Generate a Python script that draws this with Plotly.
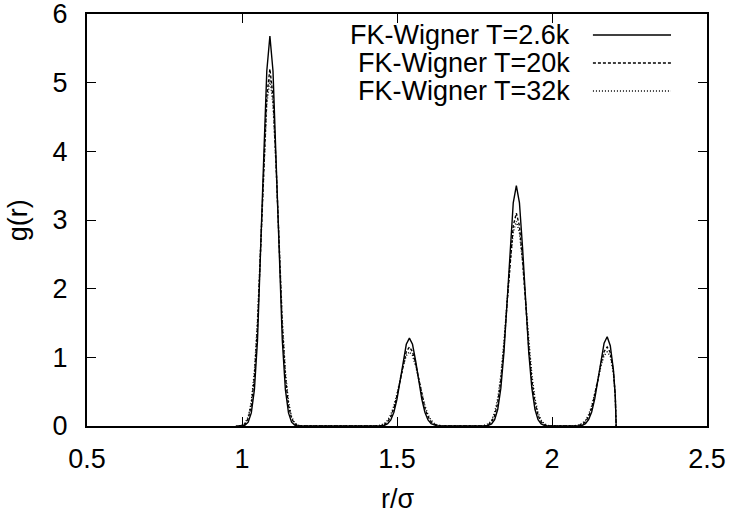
import plotly.graph_objects as go

# ---- data ----
r_26 = [0.98, 1.00, 1.01, 1.02, 1.03, 1.04, 1.05, 1.06, 1.07, 1.08, 1.09, 1.10, 1.11, 1.12, 1.13, 1.14, 1.15, 1.16, 1.17, 1.18,
        1.45, 1.46, 1.47, 1.48, 1.49, 1.50, 1.51, 1.52, 1.53, 1.54, 1.55, 1.56, 1.57, 1.58, 1.59, 1.60, 1.61, 1.62, 1.63,
        1.785, 1.795, 1.805, 1.815, 1.825, 1.835, 1.845, 1.855, 1.865, 1.875, 1.885, 1.895, 1.905, 1.915, 1.925, 1.935, 1.945, 1.955, 1.965, 1.975, 1.985,
        2.088, 2.098, 2.108, 2.118, 2.128, 2.138, 2.148, 2.158, 2.168, 2.178, 2.188, 2.198, 2.204, 2.207]
g_26 = [0, 0, 0.013, 0.055, 0.19, 0.53, 1.25, 2.43, 3.89, 5.17, 5.68, 5.17, 3.89, 2.43, 1.25, 0.53, 0.19, 0.055, 0.013, 0,
        0, 0.011, 0.034, 0.089, 0.201, 0.392, 0.658, 0.952, 1.19, 1.28, 1.19, 0.952, 0.658, 0.392, 0.201, 0.089, 0.034, 0.011, 0,
        0, 0.009, 0.031, 0.093, 0.244, 0.551, 1.07, 1.80, 2.60, 3.25, 3.5, 3.25, 2.60, 1.80, 1.07, 0.551, 0.244, 0.093, 0.031, 0.009, 0,
        0, 0.011, 0.035, 0.091, 0.205, 0.398, 0.668, 0.967, 1.207, 1.30, 1.17, 0.82, 0.45, 0]

r_20 = [0.99, 1.00, 1.01, 1.02, 1.03, 1.04, 1.05, 1.06, 1.07, 1.08, 1.09, 1.10, 1.11, 1.12, 1.13, 1.14, 1.15, 1.16, 1.17, 1.18, 1.19,
        1.43, 1.44, 1.45, 1.46, 1.47, 1.48, 1.49, 1.50, 1.51, 1.52, 1.53, 1.54, 1.55, 1.56, 1.57, 1.58, 1.59, 1.60, 1.61, 1.62, 1.63, 1.64, 1.65,
        1.785, 1.795, 1.805, 1.815, 1.825, 1.835, 1.845, 1.855, 1.865, 1.875, 1.885, 1.895, 1.905, 1.915, 1.925, 1.935, 1.945, 1.955, 1.965, 1.975, 1.985,
        2.078, 2.088, 2.098, 2.108, 2.118, 2.128, 2.138, 2.148, 2.158, 2.168, 2.178, 2.188, 2.198, 2.204, 2.207]
g_20 = [0, 0.008, 0.032, 0.107, 0.30, 0.715, 1.46, 2.55, 3.79, 4.80, 5.2, 4.80, 3.79, 2.55, 1.46, 0.715, 0.30, 0.107, 0.032, 0.008, 0,
        0, 0.003, 0.009, 0.026, 0.062, 0.135, 0.260, 0.444, 0.673, 0.907, 1.084, 1.15, 1.084, 0.907, 0.673, 0.444, 0.260, 0.135, 0.062, 0.026, 0.009, 0.003, 0,
        0, 0.021, 0.060, 0.152, 0.338, 0.665, 1.158, 1.782, 2.424, 2.915, 3.1, 2.915, 2.424, 1.782, 1.158, 0.665, 0.338, 0.152, 0.060, 0.021, 0,
        0, 0.009, 0.026, 0.062, 0.135, 0.260, 0.444, 0.673, 0.907, 1.084, 1.15, 1.07, 0.80, 0.45, 0]

r_32 = [0.99, 1.00, 1.01, 1.02, 1.03, 1.04, 1.05, 1.06, 1.07, 1.08, 1.09, 1.10, 1.11, 1.12, 1.13, 1.14, 1.15, 1.16, 1.17, 1.18, 1.19,
        1.43, 1.44, 1.45, 1.46, 1.47, 1.48, 1.49, 1.50, 1.51, 1.52, 1.53, 1.54, 1.55, 1.56, 1.57, 1.58, 1.59, 1.60, 1.61, 1.62, 1.63, 1.64, 1.65,
        1.775, 1.785, 1.795, 1.805, 1.815, 1.825, 1.835, 1.845, 1.855, 1.865, 1.875, 1.885, 1.895, 1.905, 1.915, 1.925, 1.935, 1.945, 1.955, 1.965, 1.975, 1.985, 1.995,
        2.068, 2.078, 2.088, 2.098, 2.108, 2.118, 2.128, 2.138, 2.148, 2.158, 2.168, 2.178, 2.188, 2.198, 2.204, 2.207]
g_32 = [0, 0.013, 0.044, 0.135, 0.352, 0.795, 1.55, 2.60, 3.76, 4.69, 5.05, 4.69, 3.76, 2.60, 1.55, 0.795, 0.352, 0.135, 0.044, 0.013, 0,
        0, 0.006, 0.016, 0.039, 0.084, 0.166, 0.294, 0.470, 0.676, 0.877, 1.025, 1.08, 1.025, 0.877, 0.676, 0.470, 0.294, 0.166, 0.084, 0.039, 0.016, 0.006, 0,
        0, 0.012, 0.033, 0.085, 0.196, 0.403, 0.743, 1.225, 1.807, 2.386, 2.819, 2.98, 2.819, 2.386, 1.807, 1.225, 0.743, 0.403, 0.196, 0.085, 0.033, 0.012, 0,
        0, 0.006, 0.016, 0.039, 0.084, 0.166, 0.294, 0.470, 0.676, 0.877, 1.025, 1.08, 1.02, 0.78, 0.44, 0]

series_names = ["FK-Wigner T=2.6k", "FK-Wigner T=20k", "FK-Wigner T=32k"]
series_dash = ["solid", "3px,2px", "1px,2px"]
x_ticks = [0.5, 1, 1.5, 2, 2.5]
x_tick_text = ["0.5", "1", "1.5", "2", "2.5"]
y_ticks = [0, 1, 2, 3, 4, 5, 6]

FONT = "Liberation Sans, Arial, Helvetica, sans-serif"
FS = 27

fig = go.Figure()
for rr, gg, name, dash in zip([r_26, r_20, r_32], [g_26, g_20, g_32], series_names, series_dash):
    fig.add_trace(go.Scatter(x=rr, y=gg, mode="lines", name=name,
                             line=dict(color="black", width=1.4, dash=dash),
                             showlegend=False))

# gnuplot-like key (text right-aligned, sample to the right)
legend_y = [0.949, 0.881, 0.813]
for name, dash, ly in zip(series_names, series_dash, legend_y):
    fig.add_annotation(x=0.782, y=ly, xref="paper", yref="paper", text=name,
                       showarrow=False, xanchor="right", yanchor="middle",
                       font=dict(family=FONT, size=FS, color="black"))
    fig.add_shape(type="line", xref="paper", yref="paper",
                  x0=0.816, x1=0.942, y0=ly, y1=ly,
                  line=dict(color="black", width=1.4, dash=dash))

# axis titles
fig.add_annotation(x=0.5, y=-0.177, xref="paper", yref="paper", text="r/σ",
                   showarrow=False, xanchor="center", yanchor="middle",
                   font=dict(family=FONT, size=FS, color="black"))
fig.add_annotation(x=-0.111, y=0.5, xref="paper", yref="paper", text="g(r)",
                   showarrow=False, xanchor="center", yanchor="middle", textangle=-90,
                   font=dict(family=FONT, size=FS, color="black"))

axis_common = dict(showline=True, linecolor="black", linewidth=2, mirror="ticks",
                   ticks="inside", ticklen=9, tickwidth=1.2, tickcolor="black",
                   showgrid=False, zeroline=False, automargin=False,
                   ticklabeloverflow="allow",
                   tickfont=dict(family=FONT, size=FS, color="black"))

fig.update_layout(
    width=729, height=516,
    margin=dict(l=87, r=22, t=14, b=90),
    paper_bgcolor="white", plot_bgcolor="white",
    xaxis=dict(range=[0.5, 2.5], tickvals=x_ticks, ticktext=x_tick_text,
               ticklabelstandoff=8, **axis_common),
    yaxis=dict(range=[0, 6], tickvals=y_ticks, ticklabelstandoff=12, **axis_common),
)

fig.write_html("out.html", config={"displayModeBar": False},
               post_script="document.body.style.margin='0';document.body.style.overflow='hidden';")
